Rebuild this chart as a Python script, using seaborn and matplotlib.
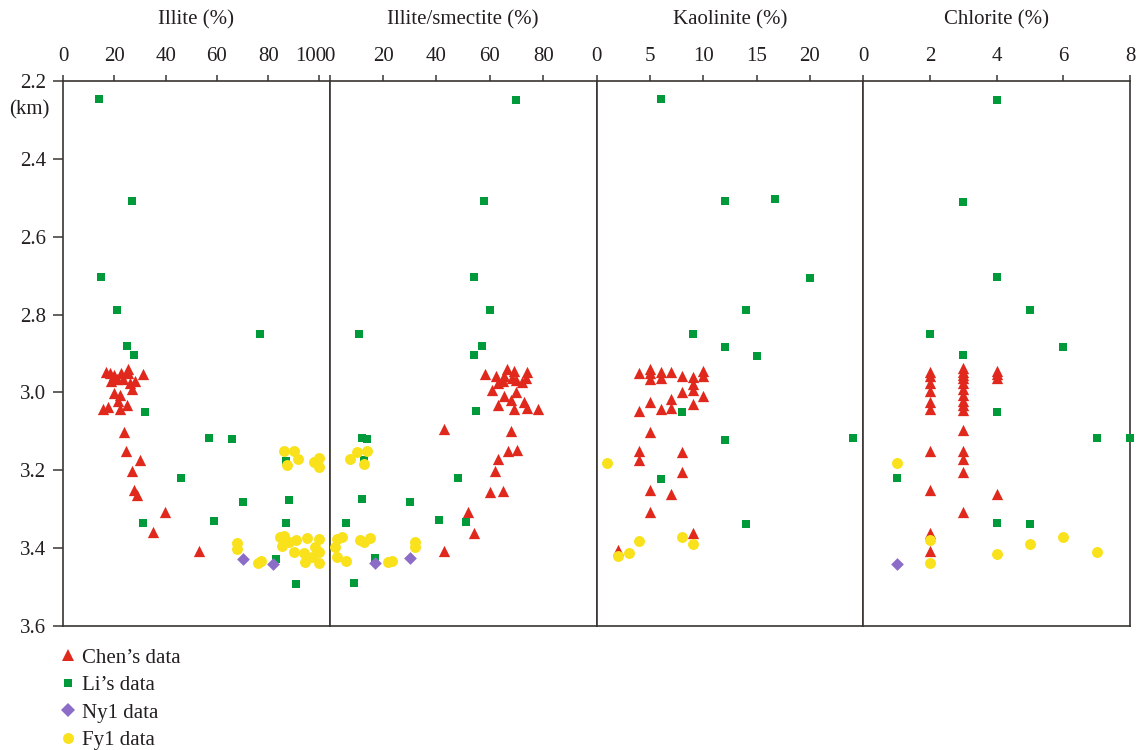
import numpy as np
import pandas as pd
import matplotlib
matplotlib.use("Agg")
import matplotlib.pyplot as plt
import matplotlib.transforms as mtrans
from matplotlib.lines import Line2D
import seaborn as sns

# ---------------- data ----------------
panel_titles = ["Illite (%)", "Illite/smectite (%)", "Kaolinite (%)", "Chlorite (%)"]
series_names = ["Chen’s data", "Li’s data", "Ny1 data", "Fy1 data"]

# Illite
chen_ill_depth = [2.948, 2.951, 2.954, 2.951, 2.941, 2.951, 2.953, 2.970, 2.966, 2.965, 2.975, 2.971, 2.990, 3.001,
                  3.006, 3.023, 3.033, 3.043, 3.038, 3.043, 3.101, 3.150, 3.173, 3.201, 3.251, 3.263, 3.307, 3.359, 3.407]
chen_ill = [16.6, 18.3, 19.9, 22.6, 25.2, 25.5, 31.1, 18.6, 21.2, 23.5, 26.1, 28.2, 26.9, 19.8,
            22.3, 21.3, 24.9, 15.5, 17.7, 22.2, 23.9, 24.4, 30.0, 26.9, 27.8, 29.0, 39.9, 35.1, 53.1]
li_ill_depth = [2.247, 2.508, 2.704, 2.787, 2.849, 2.882, 2.905, 3.049, 3.116, 3.120, 3.176, 3.221, 3.281, 3.277,
                3.330, 3.336, 3.335, 3.429, 3.491]
li_ill = [14.0, 26.9, 14.9, 21.1, 76.9, 24.9, 27.8, 32.0, 57.0, 66.0, 87.0, 46.0, 70.0, 88.0,
          58.9, 87.0, 31.0, 83.0, 90.9]
ny_ill_depth = [3.428, 3.441]
ny_ill = [70.0, 82.0]
fy_ill_depth = [3.150, 3.151, 3.171, 3.187, 3.179, 3.168, 3.192, 3.387, 3.401, 3.437, 3.433, 3.371, 3.369, 3.394,
                3.383, 3.380, 3.373, 3.377, 3.396, 3.410, 3.411, 3.412, 3.424, 3.436, 3.437]
fy_ill = [86.0, 90.2, 91.8, 87.4, 97.9, 100.0, 100.0, 68.0, 68.0, 76.2, 77.1, 84.7, 86.2, 85.5,
          88.0, 90.9, 95.0, 100.0, 98.3, 100.0, 90.1, 94.0, 97.1, 94.3, 100.0]

# Illite/smectite
chen_is_depth = [2.953, 2.959, 2.941, 2.945, 2.948, 2.959, 2.962, 2.962, 2.970, 2.968, 2.972, 2.977, 2.994, 2.998,
                 3.009, 3.019, 3.024, 3.033, 3.043, 3.039, 3.042, 3.094, 3.098, 3.150, 3.148, 3.171, 3.203, 3.256,
                 3.253, 3.306, 3.361, 3.407]
chen_is = [58.3, 62.5, 66.5, 69.0, 74.0, 65.5, 68.4, 73.7, 64.9, 69.9, 72.2, 63.0, 60.9, 69.9,
           65.2, 68.0, 73.0, 63.0, 68.9, 74.0, 78.2, 42.9, 67.9, 67.0, 70.3, 63.0, 62.0, 60.0,
           64.9, 51.9, 53.9, 42.9]
li_is_depth = [2.249, 2.509, 2.704, 2.787, 2.849, 2.882, 2.905, 3.048, 3.116, 3.120, 3.174, 3.221, 3.275, 3.281,
               3.327, 3.333, 3.336, 3.426, 3.489]
li_is = [70.0, 58.0, 54.0, 60.0, 11.0, 57.0, 54.0, 55.0, 12.0, 14.0, 13.0, 48.0, 12.0, 30.0,
         41.0, 51.0, 6.0, 17.0, 9.0]
ny_is_depth = [3.439, 3.426]
ny_is = [17.0, 30.0]
fy_is_depth = [3.152, 3.150, 3.171, 3.183, 3.377, 3.371, 3.396, 3.422, 3.434, 3.380, 3.383, 3.374, 3.385, 3.398,
               3.436, 3.432]
fy_is = [10.1, 14.0, 7.7, 12.9, 2.7, 4.7, 1.9, 2.7, 6.0, 11.5, 12.9, 15.0, 32.1, 32.1, 21.8, 23.2]

# Kaolinite
chen_kao_depth = [2.951, 2.939, 2.951, 2.966, 2.948, 2.964, 2.947, 2.958, 2.961, 2.944, 2.958, 2.978, 2.994, 2.999,
                  3.008, 3.017, 3.025, 3.047, 3.042, 3.041, 3.029, 3.102, 3.150, 3.152, 3.174, 3.204, 3.251, 3.262,
                  3.308, 3.362, 3.405]
chen_kao = [4, 5, 5, 5, 6, 6, 7, 8, 9, 10, 10, 9, 9, 8, 10, 7, 5, 4, 6, 7, 9, 5, 4, 8, 4, 8, 5, 7, 5, 9, 2]
li_kao_depth = [2.247, 2.508, 2.503, 2.705, 2.788, 2.850, 2.883, 2.906, 3.050, 3.122, 3.116, 3.222, 3.337]
li_kao = [6, 12, 16.7, 20, 14, 9, 12, 15, 8, 12, 24, 6, 14]
fy_kao_depth = [3.180, 3.381, 3.372, 3.389, 3.412, 3.419]
fy_kao = [1, 4, 8, 9, 3, 2]

# Chlorite
chen_chl_depth = [2.948, 2.959, 2.975, 2.996, 3.024, 3.043, 3.150, 3.251, 3.362, 3.408,
                  2.938, 2.947, 2.955, 2.964, 2.975, 2.992, 3.007, 3.021, 3.032, 3.045, 3.097, 3.150, 3.171, 3.204,
                  3.308, 2.945, 2.953, 2.964, 3.261]
chen_chl = [2, 2, 2, 2, 2, 2, 2, 2, 2, 2,
            3, 3, 3, 3, 3, 3, 3, 3, 3, 3, 3, 3, 3, 3, 3,
            4, 4, 4, 4]
li_chl_depth = [2.250, 2.510, 2.704, 2.788, 2.850, 2.883, 2.905, 3.049, 3.118, 3.118, 3.221, 3.336, 3.337]
li_chl = [4, 3, 4, 5, 2, 6, 3, 4, 7, 8, 1, 4, 5]
ny_chl_depth = [3.441]
ny_chl = [1]
fy_chl_depth = [3.180, 3.379, 3.437, 3.414, 3.390, 3.372, 3.411]
fy_chl = [1, 2, 2, 4, 5, 6, 7]

y_ticks = [2.2, 2.4, 2.6, 2.8, 3.0, 3.2, 3.4, 3.6]

# ---------------- style ----------------
sns.set_theme(style="white")
plt.rcParams['font.family'] = ['Liberation Serif', 'DejaVu Serif']
plt.rcParams['axes.unicode_minus'] = False

FS = 15
TXT = "#231f20"
SPINE = "#3a3532"
colors = {"Chen": "#e0281c", "Li": "#009a3a", "Ny1": "#8b6cc6", "Fy1": "#f9e21c"}
markers = {"Chen": "^", "Li": "s", "Ny1": "D", "Fy1": "o"}
sizes = {"Chen": 66, "Li": 36, "Ny1": 42, "Fy1": 62}

panels = [
    dict(xlim=(0, 104), ticks=[0, 20, 40, 60, 80, 100],
         data=[("Chen", chen_ill, chen_ill_depth), ("Li", li_ill, li_ill_depth),
               ("Ny1", ny_ill, ny_ill_depth), ("Fy1", fy_ill, fy_ill_depth)]),
    dict(xlim=(0, 100), ticks=[0, 20, 40, 60, 80],
         data=[("Chen", chen_is, chen_is_depth), ("Li", li_is, li_is_depth),
               ("Ny1", ny_is, ny_is_depth), ("Fy1", fy_is, fy_is_depth)]),
    dict(xlim=(0, 25), ticks=[0, 5, 10, 15, 20],
         data=[("Chen", chen_kao, chen_kao_depth), ("Li", li_kao, li_kao_depth),
               ("Fy1", fy_kao, fy_kao_depth)]),
    dict(xlim=(0, 8), ticks=[0, 2, 4, 6, 8],
         data=[("Chen", chen_chl, chen_chl_depth), ("Li", li_chl, li_chl_depth),
               ("Ny1", ny_chl, ny_chl_depth), ("Fy1", fy_chl, fy_chl_depth)]),
]

W, H = 1137, 750
fig = plt.figure(figsize=(W / 100, H / 100), dpi=100)
left, right = 63 / W, 1130 / W
bottom, top = 1 - 626 / H, 1 - 81 / H
w = (right - left) / 4
axes = [fig.add_axes([left + i * w, bottom, w, top - bottom]) for i in range(4)]

order = ["Chen", "Li", "Ny1", "Fy1"]
for i, (ax, p) in enumerate(zip(axes, panels)):
    for key in order:
        for k, xv, yv in p["data"]:
            if k != key:
                continue
            df = pd.DataFrame({"value": xv, "depth": yv})
            sns.scatterplot(data=df, x="value", y="depth", ax=ax, marker=markers[k],
                            color=colors[k], s=sizes[k], linewidth=0, legend=False,
                            clip_on=False, zorder=3)
    ax.set_xlim(*p["xlim"])
    ax.set_ylim(3.6, 2.2)
    ax.xaxis.tick_top()
    ax.xaxis.set_label_position("top")
    ax.set_xticks(p["ticks"])
    ax.set_xticklabels([str(t) for t in p["ticks"]])
    ax.set_xlabel(panel_titles[i], fontsize=FS, color=TXT, labelpad=16)
    ax.set_ylabel("")
    ax.tick_params(axis="x", which="both", top=True, bottom=False, direction="out",
                   length=4, width=1.1, color=SPINE, labelsize=FS, labelcolor=TXT, pad=7)
    for s in ax.spines.values():
        s.set_color(SPINE)
        s.set_linewidth(1.2)
        s.set_visible(True)
    if i == 0:
        ax.set_yticks(y_ticks)
        ax.set_yticklabels([f"{v:.1f}" for v in y_ticks])
        ax.tick_params(axis="y", left=True, direction="out", length=7, width=1.1,
                       color=SPINE, labelsize=FS, labelcolor=TXT, pad=5)
    else:
        ax.set_yticks(y_ticks)
        ax.tick_params(axis="y", left=False, labelleft=False)

# shift the "100" label of the first panel slightly to the left
fig.canvas.draw()
for lab in axes[0].get_xticklabels():
    if lab.get_text() == "100":
        lab.set_transform(lab.get_transform() +
                          mtrans.ScaledTranslation(-9 / 100, 0, fig.dpi_scale_trans))

fig.text(50 / W, 1 - 110 / H, "(km)", ha="right", va="center", fontsize=FS, color=TXT)

handles = [Line2D([], [], linestyle="none", marker=markers[k], color=colors[k],
                  markersize=np.sqrt(sizes[k]) * (1.05 if k == "Ny1" else 1.0), markeredgewidth=0)
           for k in order]
fig.legend(handles, series_names, loc="upper left", bbox_to_anchor=(59.5 / W, 1 - 648 / H),
           frameon=False, fontsize=FS, handlelength=0.8, handletextpad=0.3,
           labelspacing=0.38, borderpad=0, borderaxespad=0, labelcolor=TXT)

fig.savefig("out.png", dpi=100)
